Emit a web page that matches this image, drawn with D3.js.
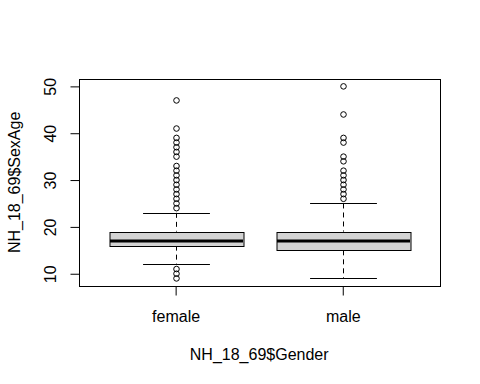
<!DOCTYPE html>
<html><head><meta charset="utf-8">
<script src="https://cdn.jsdelivr.net/npm/d3@7"></script>
<style>body{margin:0;background:#fff}svg{display:block}text{font-family:Arial,"Liberation Sans",sans-serif;fill:#000}</style>
</head><body><svg id="c" width="480" height="384"></svg>
<script>
const categories = ["female", "male"];
const lowerWhisker = [12, 9];
const q1 = [16, 15];
const median = [17, 17];
const q3 = [19, 19];
const upperWhisker = [23, 25];
const outliersFemale = [9, 10, 11, 24, 25, 26, 27, 28, 29, 30, 31, 32, 33, 35, 36, 37, 38, 39, 41, 47];
const outliersMale = [26, 27, 28, 29, 30, 31, 32, 34, 35, 38, 39, 44, 50];
const yTicks = [10, 20, 30, 40, 50];
const xLabel = "NH_18_69$Gender";
const yLabel = "NH_18_69$SexAge";

const outliers = [outliersFemale, outliersMale];
const L = 78.7, R = 439.7, T = 78.7, B = 286.1;
const svg = d3.select("#c");

const allVals = lowerWhisker.concat(upperWhisker, outliersFemale, outliersMale);
const [mn, mx] = d3.extent(allVals);
const pad = (mx - mn) * 0.04;
const y = d3.scaleLinear().domain([mn - pad, mx + pad]).range([B, T]);
const x = d3.scaleLinear().domain([0.5 - 0.08, categories.length + 0.5 + 0.08]).range([L, R]);
const boxW = x(1.4) - x(1);
const stapW = x(1.2) - x(1);

const g = svg.append("g");
categories.forEach((c, i) => {
  const cx = Math.round(x(i + 1)) + 0.5;
  // whiskers
  g.append("line").attr("x1", cx).attr("x2", cx).attr("y1", y(upperWhisker[i])).attr("y2", y(q3[i]))
    .attr("stroke", "#000").attr("stroke-dasharray", "5,4");
  g.append("line").attr("x1", cx).attr("x2", cx).attr("y1", y(q1[i])).attr("y2", y(lowerWhisker[i]))
    .attr("stroke", "#000").attr("stroke-dasharray", "5,4");
  // staples
  [upperWhisker[i], lowerWhisker[i]].forEach(v => {
    const yy = Math.round(y(v)) + 0.5;
    g.append("line").attr("x1", cx - stapW).attr("x2", cx + stapW).attr("y1", yy).attr("y2", yy).attr("stroke", "#000");
  });
  // box
  const yt = Math.round(y(q3[i])) + 0.5, yb = Math.round(y(q1[i])) + 0.5;
  g.append("rect").attr("x", Math.round(cx - boxW)).attr("y", yt)
    .attr("width", Math.round(2 * boxW)).attr("height", yb - yt)
    .attr("fill", "#d3d3d3").attr("stroke", "#000");
  g.append("line").attr("x1", Math.round(cx - boxW)).attr("x2", Math.round(cx + boxW))
    .attr("y1", y(median[i])).attr("y2", y(median[i])).attr("stroke", "#000").attr("stroke-width", 3);
  // outliers
  g.selectAll(null).data(outliers[i]).enter().append("circle")
    .attr("cx", cx).attr("cy", d => y(d)).attr("r", 2.8)
    .attr("fill", "none").attr("stroke", "#000").attr("stroke-width", 1);
});

// plot box
svg.append("rect").attr("x", Math.round(L) + 0.5).attr("y", Math.round(T) + 0.5)
  .attr("width", Math.round(R) - Math.round(L)).attr("height", Math.round(B) - Math.round(T))
  .attr("fill", "none").attr("stroke", "#000");

// y axis
const yAxis = d3.axisLeft(y).tickValues(yTicks).tickSize(9).tickPadding(12).tickSizeOuter(0);
const ya = svg.append("g").attr("transform", `translate(${Math.round(L) + 0.5 - 0},0)`).call(yAxis);
ya.select(".domain").attr("d", `M0,${y(yTicks[0])}V${y(yTicks[yTicks.length - 1])}`);
ya.selectAll(".tick line").attr("stroke", "#000");
ya.selectAll(".tick text").attr("font-size", 16).attr("font-family", "Arial, 'Liberation Sans', sans-serif")
  .attr("transform", function () { return "rotate(-90)"; })
  .attr("x", 0).attr("y", -29).attr("dy", "0").attr("text-anchor", "middle")
  .each(function () {
    const t = d3.select(this.parentNode).attr("transform");
  });
ya.selectAll(".tick").each(function (d) {
  const tick = d3.select(this);
  tick.select("text").attr("transform", null).attr("x", null).attr("y", null)
    .attr("transform", `translate(-24,0) rotate(-90)`).attr("dy", "0").attr("text-anchor", "middle");
});
ya.attr("font-size", null).attr("font-family", null);

// x axis
const xAxis = d3.axisBottom(x).tickValues(categories.map((c, i) => i + 1)).tickFormat((d, i) => categories[i])
  .tickSize(9).tickPadding(15).tickSizeOuter(0);
const xa = svg.append("g").attr("transform", `translate(0,${Math.round(B) + 0.5})`).call(xAxis);
xa.select(".domain").attr("d", `M${x(1)},0H${x(categories.length)}`);
xa.selectAll(".tick text").attr("font-size", 16).attr("font-family", "Arial, 'Liberation Sans', sans-serif").attr("dy", "0.71em");
xa.attr("font-size", null).attr("font-family", null);

// axis titles
svg.append("text").attr("x", (L + R) / 2).attr("y", 360).attr("text-anchor", "middle").attr("font-size", 16).text(xLabel);
svg.append("text").attr("transform", `translate(20,${(T + B) / 2}) rotate(-90)`).attr("text-anchor", "middle")
  .attr("font-size", 16).text(yLabel);
</script></body></html>
